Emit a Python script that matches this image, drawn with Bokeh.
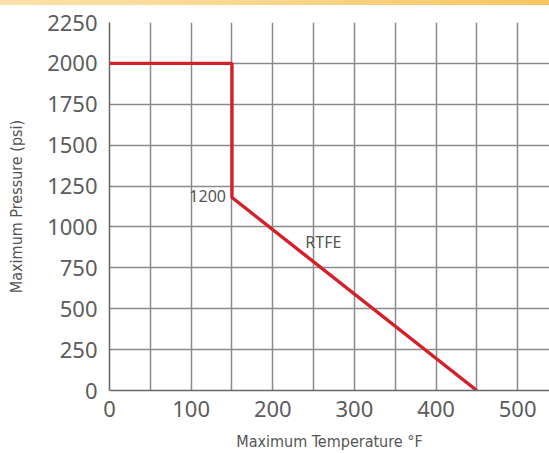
from bokeh.plotting import figure
from bokeh.layouts import column
from bokeh.models import Range1d, FixedTicker, Label, Div
from bokeh.embed import file_html
from bokeh.resources import INLINE

# data
temp_f = [0, 150, 150, 450]
pressure_psi = [2000, 2000, 1180, 0]
x_ticks = [0, 100, 200, 300, 400, 500]
x_grid = [0, 50, 100, 150, 200, 250, 300, 350, 400, 450, 500, 550]
y_ticks = [0, 250, 500, 750, 1000, 1250, 1500, 1750, 2000, 2250]
annot_text = ["1200", "RTFE"]
annot_x = [150, 262]
annot_y = [1190, 906]

W, H = 549, 453
BAR_H = 5

# top decorative gradient band
bar = Div(text="", width=W, height=BAR_H, margin=0,
          styles={"background": "linear-gradient(90deg, #fbe1aa 0%, #f9d68c 50%, #f6c560 100%)"})

p = figure(width=W, height=H - BAR_H, output_backend="svg", toolbar_location=None,
           x_range=Range1d(0, 539), y_range=Range1d(0, 2250),
           min_border_left=109, min_border_top=22 - BAR_H, min_border_bottom=63,
           min_border_right=0, margin=0)
p.outline_line_color = None

p.xaxis.ticker = FixedTicker(ticks=x_ticks)
p.yaxis.ticker = FixedTicker(ticks=y_ticks)
p.xgrid.ticker = FixedTicker(ticks=x_grid)
p.ygrid.ticker = FixedTicker(ticks=y_ticks)
for g in (p.xgrid, p.ygrid):
    g.grid_line_color = "#8a8a8a"
    g.grid_line_width = 1.5
    g.grid_line_alpha = 1

for ax in (p.xaxis, p.yaxis):
    ax.axis_line_color = "#666666"
    ax.axis_line_width = 1.5
    ax.major_tick_line_color = None
    ax.minor_tick_line_color = None
    ax.major_label_text_font = "Noto Sans"
    ax.major_label_text_font_size = "22px"
    ax.major_label_text_color = "#5c5c5c"
    ax.axis_label_text_font = "DejaVu Sans Condensed, Roboto, sans-serif"
    ax.axis_label_text_font_size = "16px"
    ax.axis_label_text_font_style = "normal"
    ax.axis_label_text_color = "#555555"

p.yaxis.major_label_standoff = 6
p.xaxis.major_label_standoff = 4
p.xaxis.axis_label = "Maximum Temperature °F"
p.yaxis.axis_label = "Maximum Pressure (psi)"
p.xaxis.axis_label_standoff = 12
p.yaxis.axis_label_standoff = 18

p.line(temp_f, pressure_psi, line_color="#d4202a", line_width=3.4)

p.add_layout(Label(x=annot_x[0], y=annot_y[0], text=annot_text[0], x_offset=-6,
                   text_align="right", text_baseline="middle",
                   text_font="Noto Sans", text_font_size="16px", text_color="#555555"))
p.add_layout(Label(x=annot_x[1], y=annot_y[1], text=annot_text[1],
                   text_align="center", text_baseline="middle",
                   text_font="Noto Sans", text_font_size="16px", text_color="#555555"))

layout = column(bar, p, spacing=0)
open("out.html", "w").write(file_html(layout, INLINE))
